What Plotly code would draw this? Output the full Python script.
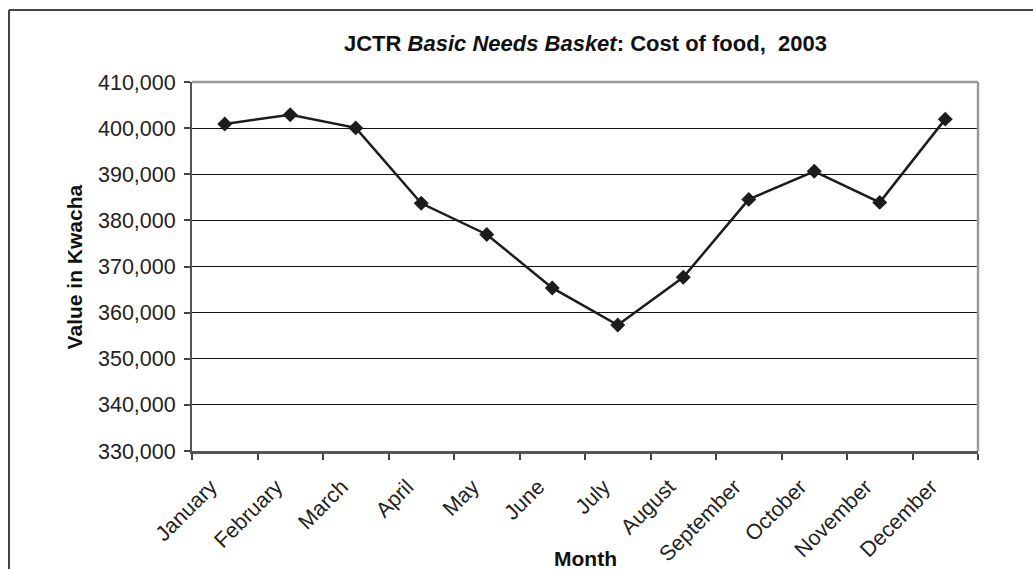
import plotly.graph_objects as go

months = ["January", "February", "March", "April", "May", "June", "July",
          "August", "September", "October", "November", "December"]
cost = [400900, 402900, 400050, 383700, 376950, 365350, 357300,
        367650, 384550, 390650, 383900, 401950]
y_ticks = [330000, 340000, 350000, 360000, 370000, 380000, 390000, 400000, 410000]
y_tick_text = ["330,000", "340,000", "350,000", "360,000", "370,000",
               "380,000", "390,000", "400,000", "410,000"]

FONT = "Liberation Sans, Arial, sans-serif"
INK = "#1c1c1c"

fig = go.Figure()
fig.add_trace(go.Scatter(
    x=months, y=cost, mode="lines+markers",
    line=dict(color=INK, width=2.5),
    marker=dict(symbol="diamond", size=11.5, color=INK),
    showlegend=False, hoverinfo="x+y",
))

fig.update_layout(
    width=1033, height=569,
    margin=dict(l=192, r=55, t=82, b=118),
    paper_bgcolor="white", plot_bgcolor="white",
    font=dict(family=FONT, color="#222222"),
    xaxis=dict(
        type="category", categoryorder="array", categoryarray=months,
        range=[-0.5, len(months) - 0.5], automargin=False,
        tickson="boundaries", ticks="outside", ticklen=6, tickwidth=1.5,
        tickcolor="#444444", showline=True, linecolor="#555555", linewidth=2.5,
        showgrid=False, tickangle=-45, tickfont=dict(size=21.5, family=FONT, color="#222222"),
        zeroline=False, ticklabelshift=-14, ticklabelstandoff=12,
    ),
    yaxis=dict(
        range=[330000, 410000], tickvals=y_ticks, ticktext=y_tick_text, automargin=False,
        ticks="outside", ticklen=6, tickwidth=1.5, tickcolor="#444444",
        showline=True, linecolor="#555555", linewidth=2,
        showgrid=True, gridcolor="#111111", gridwidth=1,
        tickfont=dict(size=21.5, family=FONT, color="#222222"), zeroline=False,
        ticklabelstandoff=4,
    ),
    annotations=[
        dict(text="<b>JCTR <i>Basic Needs Basket</i>: Cost of food,\u00a0 2003</b>",
             xref="paper", yref="paper", x=0.5, y=1.103, xanchor="center", yanchor="middle",
             showarrow=False, font=dict(size=22, family=FONT, color="#111111")),
        dict(text="<b>Value in Kwacha</b>", textangle=-90,
             xref="paper", yref="paper", x=-0.149, y=0.5, xanchor="center", yanchor="middle",
             showarrow=False, font=dict(size=21, family=FONT, color="#111111")),
        dict(text="<b>Month</b>",
             xref="paper", yref="paper", x=0.5, y=-0.29, xanchor="center", yanchor="middle",
             showarrow=False, font=dict(size=21, family=FONT, color="#111111")),
    ],
    shapes=[
        # plot-area top and right border (gray)
        dict(type="line", xref="paper", yref="paper", x0=0, x1=1, y0=1, y1=1,
             line=dict(color="#9a9a9a", width=2.5), layer="above"),
        dict(type="line", xref="paper", yref="paper", x0=1, x1=1, y0=0, y1=1,
             line=dict(color="#9a9a9a", width=2.5), layer="above"),
        # outer chart frame (left and top visible)
        dict(type="line", xref="paper", yref="paper", x0=-0.2328, x1=1.2, y0=1.195, y1=1.195,
             line=dict(color="#444444", width=2)),
        dict(type="line", xref="paper", yref="paper", x0=-0.2328, x1=-0.2328, y0=-0.4, y1=1.195,
             line=dict(color="#444444", width=2)),
    ],
)

fig.write_html("out.html")
